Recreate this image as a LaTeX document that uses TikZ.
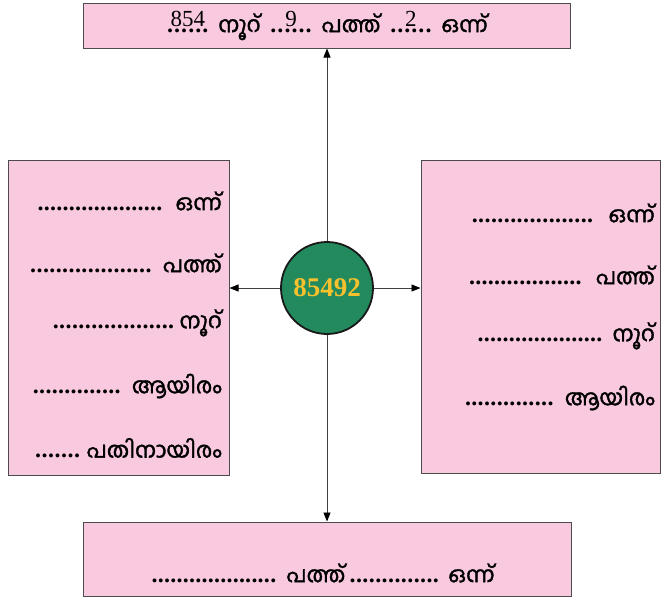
\documentclass[tikz,border=0pt]{standalone}
\usepackage{fontspec}
\usepackage{xcolor}
\setmainfont{Liberation Serif}
\newfontfamily\malfont[Script=Malayalam, FakeBold=1.6]{Hind Kochi}
\usetikzlibrary{arrows.meta}

\definecolor{boxpink}{RGB}{248,201,223}
\definecolor{hubgreen}{RGB}{35,138,94}
\definecolor{hubyellow}{RGB}{247,193,45}

% dotted blank of a given width
\newcommand\gap[1]{\makebox[#1]{\bfseries\fontsize{24}{24}\selectfont\xleaders\hbox to 6.2pt{\hss.\hss}\hfill}}
% dotted blank with a number written on it
\newcommand\fillin[2]{\rlap{\makebox[#1]{\raisebox{6pt}{\mdseries\fontsize{23}{23}\selectfont #2}}}\gap{#1}}
\newcommand\mal[1]{{\malfont\fontsize{22}{24}\selectfont #1}}

\tikzset{
  placebox/.style={draw=black!70, line width=1pt, fill=boxpink},
  hub/.style={circle, draw=black!90, line width=1.8pt, fill=hubgreen, minimum size=92pt, inner sep=0pt,
    text=hubyellow, font=\bfseries\fontsize{27}{27}\selectfont},
  line/.style={anchor=east, inner sep=0pt, font=\fontsize{22}{24}\selectfont},
  arr/.style={draw=black!75, line width=0.9pt, -{Triangle[length=9pt,width=7pt,black]}}
}

\begin{document}
\begin{tikzpicture}[x=1pt,y=-1pt]
        \useasboundingbox (0,0) rectangle (668,598);

        % Draw boxes
        \node[placebox, minimum width=487pt, minimum height=45pt, inner sep=0pt,
              font=\fontsize{22}{24}\selectfont] (top) at (327,25.5)
              {\fillin{43pt}{854}\hspace{9pt}\mal{നൂറ്}\hspace{9pt}\fillin{43pt}{9}\hspace{9pt}\mal{പത്ത്}\hspace{9pt}\fillin{43pt}{2}\hspace{9pt}\mal{ഒന്ന്}};
        \node[placebox, minimum width=221pt, minimum height=315pt] (left) at (118.5,317.5) {};
        \node[placebox, minimum width=239pt, minimum height=313pt] (right) at (540.5,316.5) {};
        \node[placebox, minimum width=488pt, minimum height=74pt] (bottom) at (327,559) {};

        % Centre number
        \node[hub] (num) at (327,288) {85492};

        % Arrows
        \draw[arr] (num) -- (top);
        \draw[arr] (num) -- (bottom);
        \draw[arr] (num.west) -- (num.west -| left.east);
        \draw[arr] (num.east) -- (num.east -| right.west);

        % Left box lines
        \node[line] (l1) at (222,201) {\gap{125pt}\hspace{13pt}\mal{ഒന്ന്}};
        \node[line] (l2) at (222,263) {\gap{122pt}\hspace{11pt}\mal{പത്ത്}};
        \node[line] (l3) at (222,323) {\gap{122pt}\hspace{5pt}\mal{നൂറ്}};
        \node[line] (l4) at (222,386) {\gap{88pt}\hspace{11pt}\mal{ആയിരം}};
        \node[line] (l5) at (222,448) {\gap{46pt}\hspace{6pt}\mal{പതിനായിരം}};

        % Right box lines
        \node[line] (r1) at (655,213) {\gap{122pt}\hspace{15pt}\mal{ഒന്ന്}};
        \node[line] (r2) at (655,275) {\gap{113pt}\hspace{14pt}\mal{പത്ത്}};
        \node[line] (r3) at (655,336) {\gap{125pt}\hspace{10pt}\mal{നൂറ്}};
        \node[line] (r4) at (655,398) {\gap{89pt}\hspace{11pt}\mal{ആയിരം}};

        % Bottom box line
        \node[line, anchor=center] (b1) at (323,573) {\gap{125pt}\hspace{10pt}\mal{പത്ത്}\hspace{4pt}\gap{90pt}\hspace{9pt}\mal{ഒന്ന്}};

    \end{tikzpicture}
\end{document}
